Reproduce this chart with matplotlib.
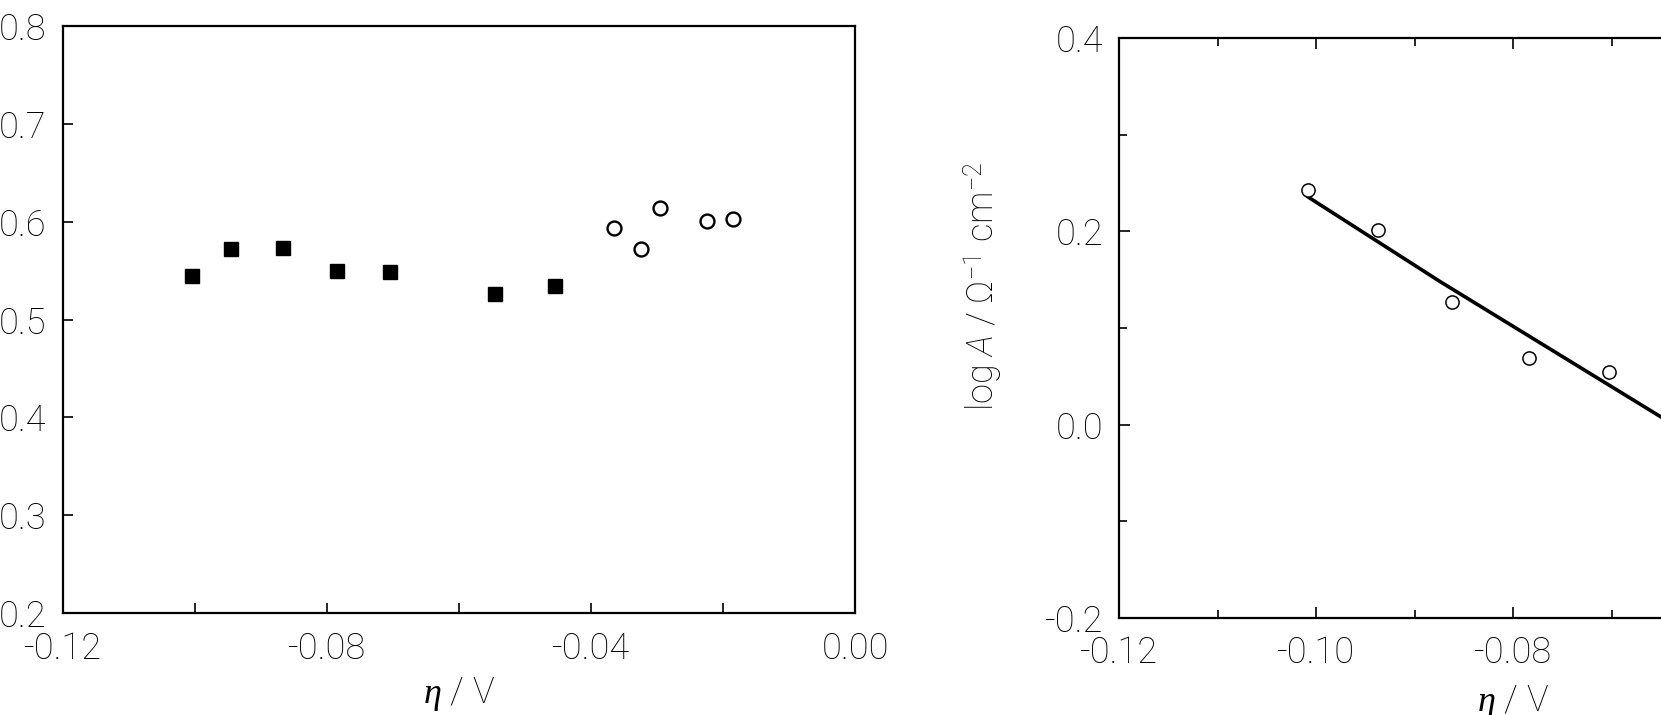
import matplotlib
matplotlib.use("Agg")
import matplotlib.pyplot as plt
from matplotlib.ticker import MultipleLocator, FormatStrFormatter

# left panel: two kinds of points vs overpotential
eta_sq = [-0.1005, -0.0946, -0.0866, -0.0785, -0.0705, -0.0545, -0.0455]
val_sq = [0.544, 0.572, 0.573, 0.550, 0.549, 0.526, 0.534]
eta_ci = [-0.0365, -0.0325, -0.0295, -0.0224, -0.0185]
val_ci = [0.594, 0.572, 0.614, 0.601, 0.603]

# right panel: log A vs overpotential and the fitted line
eta_logA = [-0.1008, -0.0937, -0.0862, -0.0784, -0.0703]
logA = [0.243, 0.201, 0.127, 0.069, 0.054]
fit_eta = [-0.1008, -0.0874, -0.0645]
fit_logA = [0.2355, 0.148, 0.005]

plt.rcParams['font.family'] = ['Roboto', 'DejaVu Sans']
plt.rcParams['font.weight'] = 'light'
plt.rcParams['axes.labelweight'] = 'light'
plt.rcParams['mathtext.fontset'] = 'custom'
plt.rcParams['mathtext.rm'] = 'Roboto:light'
plt.rcParams['mathtext.it'] = 'Liberation Serif:italic'
plt.rcParams['mathtext.sf'] = 'Roboto:italic:light'
plt.rcParams['axes.linewidth'] = 1.6

fs = 26
W, H = 1661, 715
fig = plt.figure(figsize=(W / 100, H / 100), dpi=100)

# left panel
ax1 = fig.add_axes([63 / W, (H - 613) / H, 792 / W, 587 / H])
ax1.plot(eta_sq, val_sq, 's', color='black', markersize=10, linestyle='none')
ax1.plot(eta_ci, val_ci, 'o', markerfacecolor='white', markeredgecolor='black',
         markersize=10, markeredgewidth=1.7, linestyle='none')
ax1.set_xlim(-0.12, 0.0)
ax1.set_ylim(0.2, 0.8)
ax1.xaxis.set_major_locator(MultipleLocator(0.04))
ax1.xaxis.set_minor_locator(MultipleLocator(0.02))
ax1.yaxis.set_major_locator(MultipleLocator(0.1))
ax1.xaxis.set_major_formatter(FormatStrFormatter('%.2f'))
ax1.yaxis.set_major_formatter(FormatStrFormatter('%.1f'))
ax1.tick_params(which='both', direction='in', labelsize=fs, width=1.2, length=7)
ax1.tick_params(axis='x', pad=13)
ax1.tick_params(axis='y', pad=12)
ax1.set_xlabel(r'$\eta$ / V', fontsize=fs)
ax1.xaxis.set_label_coords(0.5, -0.106)

# right panel
ax2 = fig.add_axes([1119 / W, (H - 618) / H, 788 / W, 580 / H])
ax2.plot(fit_eta, fit_logA, '-', color='black', linewidth=2.6)
ax2.plot(eta_logA, logA, 'o', markerfacecolor='white', markeredgecolor='black',
         markersize=9.5, markeredgewidth=1.1, linestyle='none')
ax2.set_xlim(-0.12, -0.04)
ax2.set_ylim(-0.2, 0.4)
ax2.xaxis.set_major_locator(MultipleLocator(0.02))
ax2.xaxis.set_minor_locator(MultipleLocator(0.01))
ax2.yaxis.set_major_locator(MultipleLocator(0.2))
ax2.yaxis.set_minor_locator(MultipleLocator(0.1))
ax2.xaxis.set_major_formatter(FormatStrFormatter('%.2f'))
ax2.yaxis.set_major_formatter(FormatStrFormatter('%.1f'))
ax2.tick_params(which='both', direction='in', labelsize=fs, width=1.2, top=True)
ax2.tick_params(which='major', length=8)
ax2.tick_params(which='minor', length=6)
ax2.tick_params(axis='x', pad=12)
ax2.tick_params(axis='y', pad=11)
ax2.set_xlabel(r'$\eta$ / V', fontsize=fs)
ax2.xaxis.set_label_coords(0.5, -0.112)
ax2.set_ylabel(r'log $\mathsf{A}$ / Ω$^{-1}$ cm$^{-2}$', fontsize=fs)
ax2.yaxis.set_label_coords(-0.146, 0.572)

fig.savefig('out.png', dpi=100)
